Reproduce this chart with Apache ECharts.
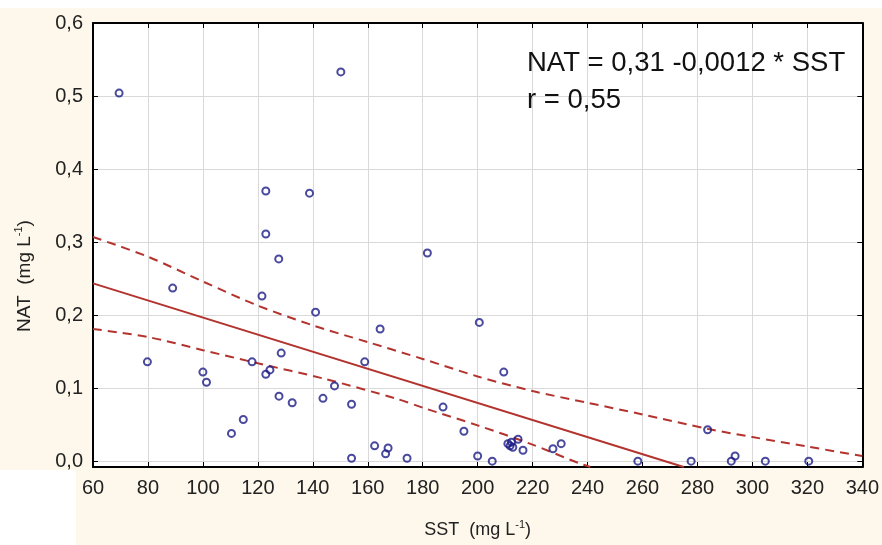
<!DOCTYPE html>
<html>
<head>
<meta charset="utf-8">
<title>NAT vs SST</title>
<script src="https://cdn.jsdelivr.net/npm/echarts@6/dist/echarts.min.js"></script>
<style>
  html, body { margin: 0; padding: 0; background: #fff; }
  #chart { width: 882px; height: 545px; }
</style>
</head>
<body>
<div id="chart"></div>
<script>
// observed samples: SST (x) and NAT (y)
const sst = [69.5, 79.8, 89.0, 100.0, 101.3, 110.4, 114.7, 117.9, 121.5, 122.9,
  122.9, 127.6, 122.9, 124.4, 128.5, 127.7, 132.5, 138.8, 141.0, 143.7,
  147.9, 150.2, 154.1, 154.1, 158.9, 164.5, 162.5, 167.4, 166.5, 174.3,
  181.7, 187.4, 195.0, 200.0, 200.6, 205.3, 209.5, 211.0, 212.3, 212.8,
  214.7, 216.5, 211.8, 227.4, 230.4, 258.3, 277.7, 283.7, 292.3, 293.7,
  304.7, 320.5];
const nat = [0.504, 0.136, 0.237, 0.122, 0.108, 0.038, 0.057, 0.136, 0.226, 0.370,
  0.311, 0.277, 0.119, 0.125, 0.148, 0.089, 0.080, 0.367, 0.204, 0.086,
  0.103, 0.533, 0.078, 0.004, 0.136, 0.181, 0.021, 0.018, 0.010, 0.004,
  0.285, 0.074, 0.041, 0.007, 0.190, 0.000, 0.122, 0.024, 0.026, 0.019,
  0.030, 0.015, 0.021, 0.017, 0.024, 0.000, 0.000, 0.043, 0.000, 0.007,
  0.000, 0.000];

// regression line (end points)
const fitX = [60, 275];
const fitY = [0.2435, -0.008];

// 95% confidence bands
const upX = [60, 80, 100, 120, 140, 160, 180, 200, 220, 240, 260, 284, 300, 320, 340];
const upY = [0.307, 0.280, 0.246, 0.213, 0.186, 0.163, 0.140, 0.116, 0.096, 0.080, 0.064, 0.044, 0.033, 0.020, 0.007];
const loX = [60, 80, 100, 120, 144, 170, 181, 200, 219, 237, 241];
const loY = [0.181, 0.170, 0.152, 0.134, 0.113, 0.086, 0.072, 0.049, 0.024, -0.003, -0.008];

const xTicks = [60, 80, 100, 120, 140, 160, 180, 200, 220, 240, 260, 280, 300, 320, 340];
const yTicks = [0, 0.1, 0.2, 0.3, 0.4, 0.5, 0.6];
const yMin = -0.008;

const zip = (a, b) => a.map((v, i) => [v, b[i]]);

const font = 'Liberation Sans, Arial, sans-serif';
const red = '#b3332e';
const navy = '#1b1b86';

const axisBase = {
  axisLine: { show: true, onZero: false, lineStyle: { color: '#000', width: 2 } },
  axisTick: { show: true, inside: true, length: 5, lineStyle: { color: '#000', width: 1 } }
};

let chart;

const xAxisOf = (extra) => Object.assign({}, axisBase, {
  type: 'value', min: xTicks[0], max: xTicks[xTicks.length - 1], interval: 20
}, extra);

const yAxisOf = (extra) => Object.assign({}, axisBase, {
  type: 'value', min: yMin, max: yTicks[yTicks.length - 1],
  axisTick: Object.assign({}, axisBase.axisTick, { customValues: yTicks })
}, extra);

const initChart = () => {
  chart = echarts.init(document.getElementById('chart'));
  chart.setOption({
    backgroundColor: '#fdf8eb',
    animation: false,
    textStyle: { fontFamily: font },
    grid: { left: 93, right: 18, top: 23, bottom: 78, show: true, backgroundColor: '#fff', borderWidth: 0 },
    graphic: [
      { type: 'rect', shape: { x: 0, y: 0, width: 882, height: 8 }, style: { fill: '#fff' }, z: -10 },
      { type: 'rect', shape: { x: 0, y: 470, width: 76, height: 75 }, style: { fill: '#fff' }, z: -10 },
      { type: 'text', x: 527, y: 63, z: 10,
        style: { text: 'NAT = 0,31 -0,0012 * SST', font: '27.5px ' + font, fill: '#111', textVerticalAlign: 'middle' } },
      { type: 'text', x: 527, y: 100, z: 10,
        style: { text: 'r = 0,55', font: '27.5px ' + font, fill: '#111', textVerticalAlign: 'middle' } },
      { type: 'text', x: 25, y: 276, rotation: Math.PI / 2, z: 10,
        style: {
          text: '{a|NAT  (mg L}{s|-1}{a|)}', align: 'center', verticalAlign: 'middle', fill: '#222',
          rich: {
            a: { fontSize: 19, fontFamily: font, lineHeight: 23, fill: '#222' },
            s: { fontSize: 11, fontFamily: font, verticalAlign: 'top', fill: '#222' }
          }
        } }
    ],
    xAxis: [
      xAxisOf({
        axisLabel: { fontSize: 20, color: '#222', margin: 11, fontFamily: font },
        splitLine: { show: true, lineStyle: { color: '#d9d9d9', width: 1 } },
        name: '{a|SST  (mg L}{s|-1}{a|)}', nameLocation: 'middle', nameGap: 52,
        nameTextStyle: {
          rich: {
            a: { fontSize: 18, fontFamily: font, color: '#222', lineHeight: 22 },
            s: { fontSize: 11, fontFamily: font, color: '#222', verticalAlign: 'top' }
          }
        }
      }),
      xAxisOf({ position: 'top', axisLabel: { show: false }, splitLine: { show: false } })
    ],
    yAxis: [
      yAxisOf({
        axisLabel: {
          fontSize: 20, color: '#222', margin: 10, fontFamily: font, customValues: yTicks,
          formatter: v => v.toFixed(1).replace('.', ',')
        },
        splitLine: { show: true, lineStyle: { color: '#d9d9d9', width: 1 } }
      }),
      yAxisOf({ position: 'right', axisLabel: { show: false }, splitLine: { show: false } })
    ],
    series: [
      {
        type: 'line', data: zip(fitX, fitY), showSymbol: false, z: 2,
        lineStyle: { color: red, width: 2 }
      },
      {
        type: 'line', data: zip(upX, upY), showSymbol: false, smooth: 0.3, z: 2,
        lineStyle: { color: red, width: 2, type: [9, 6] }
      },
      {
        type: 'line', data: zip(loX, loY), showSymbol: false, smooth: 0.3, z: 2,
        lineStyle: { color: red, width: 2, type: [9, 6] }
      },
      {
        type: 'scatter', data: zip(sst, nat), symbol: 'circle', symbolSize: 7, z: 5,
        itemStyle: { color: 'rgba(255,255,255,0)', borderColor: navy, borderWidth: 2 }
      }
    ]
  });
};

document.addEventListener('DOMContentLoaded', function () {
  initChart();
});

window.addEventListener('resize', function () {
  chart.resize();
});
</script>
</body>
</html>
